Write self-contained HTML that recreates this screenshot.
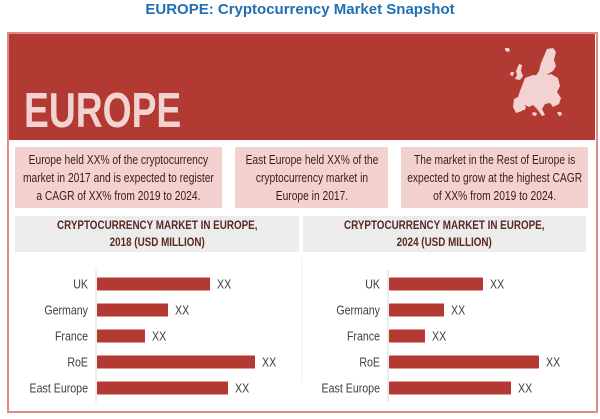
<!DOCTYPE html>
<html><head><meta charset="utf-8">
<style>
body{margin:0;width:600px;height:419px;background:#fff;overflow:hidden;font-family:"Liberation Sans",sans-serif;position:relative}
.abs{position:absolute}
#title{left:0;width:600px;top:1px;text-align:center;color:#1f6fb3;font:bold 15px "Liberation Sans",sans-serif}
#frame{left:7px;top:32px;width:587px;height:377px;border:2px solid #e08a88}
#banner{left:9px;top:34px;width:586px;height:106px;background:#b33a33}
#europe{left:24px;top:87px;color:#f3d3d1;font:bold 49px/1 "Liberation Sans",sans-serif;transform:scaleX(0.76);transform-origin:left top;white-space:nowrap}
.box{top:147px;height:61px;background:#f2d1cf;color:#3a1d1b;display:flex;align-items:center;justify-content:center;overflow:visible}
.box>div,.hdr>div{flex:none;text-align:center;transform:scaleX(0.82);white-space:nowrap}
.box>div{font-size:12.5px;line-height:18px}
.hdr{top:216px;height:36px;background:#ececec;color:#5a2724;display:flex;align-items:center;justify-content:center}
.hdr>div{font-weight:bold;font-size:12px;line-height:17px}
</style></head><body>
<div id="title" class="abs">EUROPE: Cryptocurrency Market Snapshot</div>
<div id="frame" class="abs"></div>
<div id="banner" class="abs"></div>
<div id="europe" class="abs">EUROPE</div>
<svg class="abs" style="left:495px;top:46px" width="72" height="80" viewBox="0 0 72 80">
<path fill="#f3d3d1" d="M10 2l4 0 1 3-3 1-2-2z M52 3l6-1 3 4-2 8 2 6-3 5-5 3-4 4-6 3-3-4 4-6 2-8z M24 18l3 1-1 6 2 5-3 4-5-1 2-4-1-4z M16 26l3 0-1 4-3-1z M30 32l8-3 10 1 8-2 7 4 2 8-3 6 4 6-2 6-6 3-3-4-5 1-3 5 3 6-3 1-5-7-4-4-4 2-4-2-3 6-6 2-3-6 1-8 4-2 2-6z M28 60l3 0-1 4-3 0z M38 66l4 1-1 3-4-1z M62 66l4 0 1 3-3 1z"/>
</svg>
<div class="abs box" style="left:15px;width:207px"><div>Europe held XX% of the cryptocurrency<br>market in 2017 and is expected to register<br>a CAGR of XX% from 2019 to 2024.</div></div>
<div class="abs box" style="left:235px;width:153px"><div>East Europe held XX% of the<br>cryptocurrency market in<br>Europe in 2017.</div></div>
<div class="abs box" style="left:401px;width:187px"><div>The market in the Rest of Europe is<br>expected to grow at the highest CAGR<br>of XX% from 2019 to 2024.</div></div>
<div class="abs hdr" style="left:15px;width:284px"><div>CRYPTOCURRENCY MARKET IN EUROPE,<br>2018 (USD MILLION)</div></div>
<div class="abs hdr" style="left:303px;width:283px"><div>CRYPTOCURRENCY MARKET IN EUROPE,<br>2024 (USD MILLION)</div></div>
<svg id="charts" class="abs" style="left:0;top:0" width="600" height="419"></svg>
<script>
const categories=["UK","Germany","France","RoE","East Europe"];
const values2018=[113,71,48,158,131];
const values2024=[94,55,36,150,122];
const valueLabels=["XX","XX","XX","XX","XX"];
const NS="http://www.w3.org/2000/svg";
const svg=document.getElementById('charts');
function xScale(v){return v*1.0;}
function yScale(i){return 284+i*26;}
function mk(t,a){const e=document.createElementNS(NS,t);for(const k in a)e.setAttribute(k,a[k]);svg.appendChild(e);return e;}
function chart(axisX,vals,key){
  const ax=mk('line',{x1:axisX,x2:axisX,y1:270,y2:402,stroke:'#d9d9d9','stroke-width':1});
  
  
  categories.forEach((c,i)=>{
    const y=yScale(i);
    const lb=mk('text',{x:0,y:y+4.5,'text-anchor':'end','font-size':12.5,fill:'#404040',transform:'translate('+(axisX-8)+',0) scale(0.85,1)'});
    lb.textContent=c;
    
    
    const w=xScale(vals[i]);
    const r=mk('rect',{x:axisX+1,y:y-6.5,width:w,height:13,fill:'#b33a33'});
    
    
    const vl=mk('text',{x:0,y:y+4.5,'font-size':12.5,fill:'#404040',transform:'translate('+(axisX+1+w+7)+',0) scale(0.85,1)'});
    vl.textContent=valueLabels[i];
    
    
  });
}
chart(96,values2018,'2018');
chart(388,values2024,'2024');
const sep=mk('line',{x1:302,x2:302,y1:258,y2:382,stroke:'#eeeeee','stroke-width':1});


</script>
</body></html>
